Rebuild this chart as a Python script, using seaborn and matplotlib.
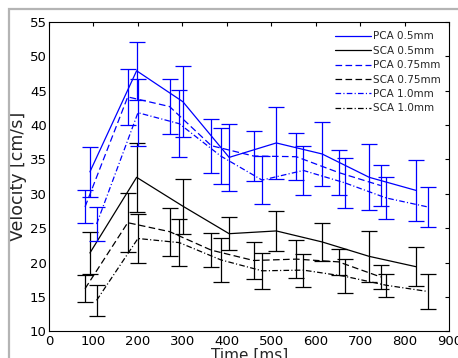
import matplotlib
matplotlib.use("Agg")
import matplotlib.pyplot as plt
import seaborn as sns
import pandas as pd
from matplotlib.patches import Rectangle

# time points (each diameter measured on its own time grid)
t_05 = [92, 197, 301, 405, 511, 614, 720, 825]
t_075 = [81, 177, 271, 365, 460, 556, 651, 746]
t_10 = [107, 200, 293, 386, 479, 572, 665, 758, 851]

pca_05 = [33.2, 47.9, 43.4, 35.3, 37.4, 35.8, 32.4, 30.5]
pca_05_err = [3.6, 4.2, 5.2, 4.9, 5.2, 4.7, 4.8, 4.4]
sca_05 = [21.4, 32.4, 28.2, 24.2, 24.6, 23.0, 20.9, 19.4]
sca_05_err = [3.1, 5.0, 4.0, 2.4, 2.9, 2.75, 3.75, 2.85]

pca_075 = [28.1, 44.1, 42.7, 37.0, 35.5, 35.4, 33.1, 31.2]
pca_075_err = [2.4, 4.1, 4.0, 3.9, 3.6, 3.4, 3.3, 3.0]
sca_075 = [16.2, 25.8, 24.5, 21.8, 20.3, 20.5, 20.1, 17.9]
sca_075_err = [2.0, 4.3, 3.5, 2.5, 2.65, 2.75, 1.9, 1.8]

pca_10 = [25.6, 41.8, 40.2, 35.5, 32.0, 33.4, 31.6, 29.4, 28.1]
pca_10_err = [2.5, 4.9, 4.9, 4.1, 3.5, 3.6, 3.6, 3.1, 2.9]
sca_10 = [14.5, 23.5, 22.9, 20.4, 18.8, 18.9, 18.0, 16.7, 15.8]
sca_10_err = [2.25, 3.5, 3.4, 3.2, 2.6, 2.4, 2.5, 1.7, 2.6]

series = [
    ("PCA 0.5mm", t_05, pca_05, pca_05_err, "blue", "-"),
    ("SCA 0.5mm", t_05, sca_05, sca_05_err, "black", "-"),
    ("PCA 0.75mm", t_075, pca_075, pca_075_err, "blue", (0, (5.3, 2.7))),
    ("SCA 0.75mm", t_075, sca_075, sca_075_err, "black", (0, (5.3, 2.7))),
    ("PCA 1.0mm", t_10, pca_10, pca_10_err, "blue", (0, (4.5, 1.8, 0.9, 1.8))),
    ("SCA 1.0mm", t_10, sca_10, sca_10_err, "black", (0, (4.5, 1.8, 0.9, 1.8))),
]

sns.set_style("white")
plt.rcParams["font.family"] = ["DejaVu Sans"]

fig = plt.figure(figsize=(4.58, 3.58), dpi=100)
ax = fig.add_axes([0.107, 0.0746, 0.874, 0.864])

for name, t, v, err, col, ls in series:
    df = pd.DataFrame({"Time": t, "Velocity": v})
    sns.lineplot(data=df, x="Time", y="Velocity", color=col, linestyle=ls,
                 linewidth=0.9, label=name, errorbar=None, ax=ax)
    ax.errorbar(t, v, yerr=err, fmt="none", ecolor=col, elinewidth=0.9,
                capsize=5.5, capthick=0.9)

ax.set_xlim(0, 900)
ax.set_ylim(10, 55)
ax.set_xticks(range(0, 901, 100))
ax.set_yticks(range(10, 56, 5))
ax.tick_params(direction="in", length=3, width=0.8, top=True, right=True,
               labelsize=9.5, pad=2.5, colors="black")
ax.tick_params(axis="y", pad=1.5)
for s in ax.spines.values():
    s.set_color("black")
    s.set_linewidth(0.8)

ax.set_xlabel("Time [ms]", fontsize=11, labelpad=0)
ax.set_ylabel("Velocity [cm/s]", fontsize=12.5, labelpad=2)

leg = ax.legend(loc="upper right", frameon=False, fontsize=7.5,
                handlelength=3.5, handletextpad=0.2, labelspacing=0.42,
                borderaxespad=0.3, bbox_to_anchor=(0.997, 0.993))

# light grey window frame of the original screenshot
fig.patches.append(Rectangle((9 / 458, -0.2), 1.5, 1.2 - 9 / 358,
                             transform=fig.transFigure, fill=False,
                             edgecolor="#b4b4b4", linewidth=1.6))

fig.savefig("out.png", dpi=100)
